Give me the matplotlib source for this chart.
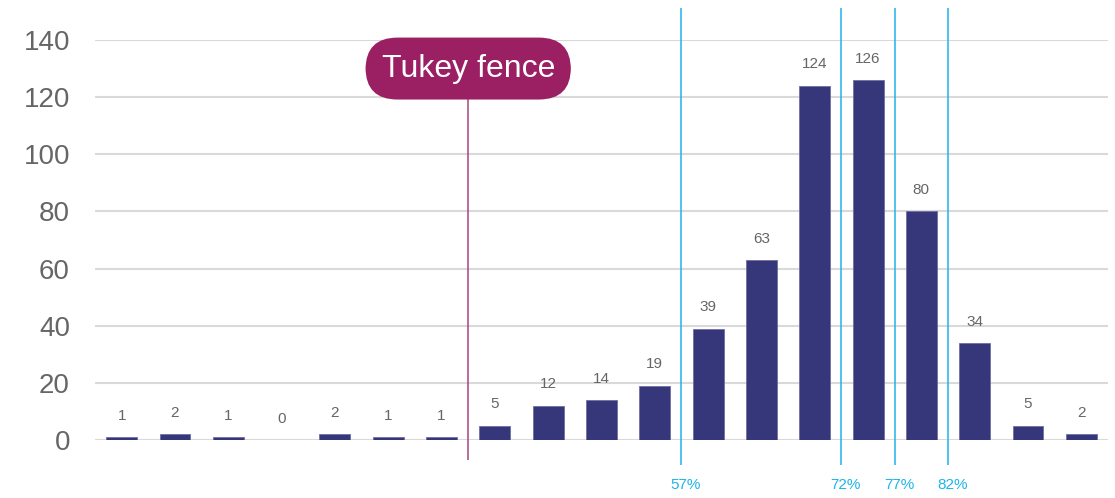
import matplotlib.pyplot as plt

plt.rcParams['font.family'] = ['Liberation Sans', 'DejaVu Sans']

counts = [1, 2, 1, 0, 2, 1, 1, 5, 12, 14, 19, 39, 63, 124, 126, 80, 34, 5, 2]
fence_pos = 6.5
fence_label = "Tukey fence"
pct_pos = [10.5, 13.5, 14.5, 15.5]
pct_labels = ["57%", "72%", "77%", "82%"]

bar_color = "#35377A"
fence_color = "#9B1F63"
blue = "#1CB4EC"

fig = plt.figure(figsize=(11.15, 4.98), dpi=100)
ax = fig.add_axes([0.0852, 0.1165, 0.9085, 0.8032])

x = list(range(len(counts)))
ax.bar(x, counts, width=0.58, color=bar_color, edgecolor="#6E6FA0", linewidth=0.6, zorder=3)
for xi, v in zip(x, counts):
    ax.text(xi, v + 5, str(v), ha="center", va="bottom", fontsize=11, color="#666666")

ax.set_xlim(-0.5, len(counts) - 0.5)
ax.set_ylim(0, 140)
ax.set_yticks(range(0, 141, 20))
ax.tick_params(axis="y", length=0, labelsize=20, labelcolor="#666666", pad=18)
ax.set_xticks([])
ax.grid(axis="y", color="#D9D9D9", linewidth=1.5, zorder=0)
for s in ax.spines.values():
    s.set_visible(False)

# percentile lines
ax.vlines(pct_pos, -8.8, 151.2, colors=blue, linewidth=1.1, clip_on=False, zorder=4)
for p, lab in zip(pct_pos, pct_labels):
    ax.text(p + 0.08, -15.8, lab, ha="center", va="center", fontsize=11, color=blue, clip_on=False)

# Tukey fence
ax.vlines([fence_pos], -7, 125, colors="#A8447E", linewidth=1.1, clip_on=False, zorder=4)
ax.text(fence_pos, 130.0, fence_label, ha="center", va="center", fontsize=23, color="white", zorder=6,
        bbox=dict(boxstyle="round,pad=0.5,rounding_size=1.0", facecolor=fence_color, edgecolor="none"))

fig.savefig("out.png", dpi=100)
